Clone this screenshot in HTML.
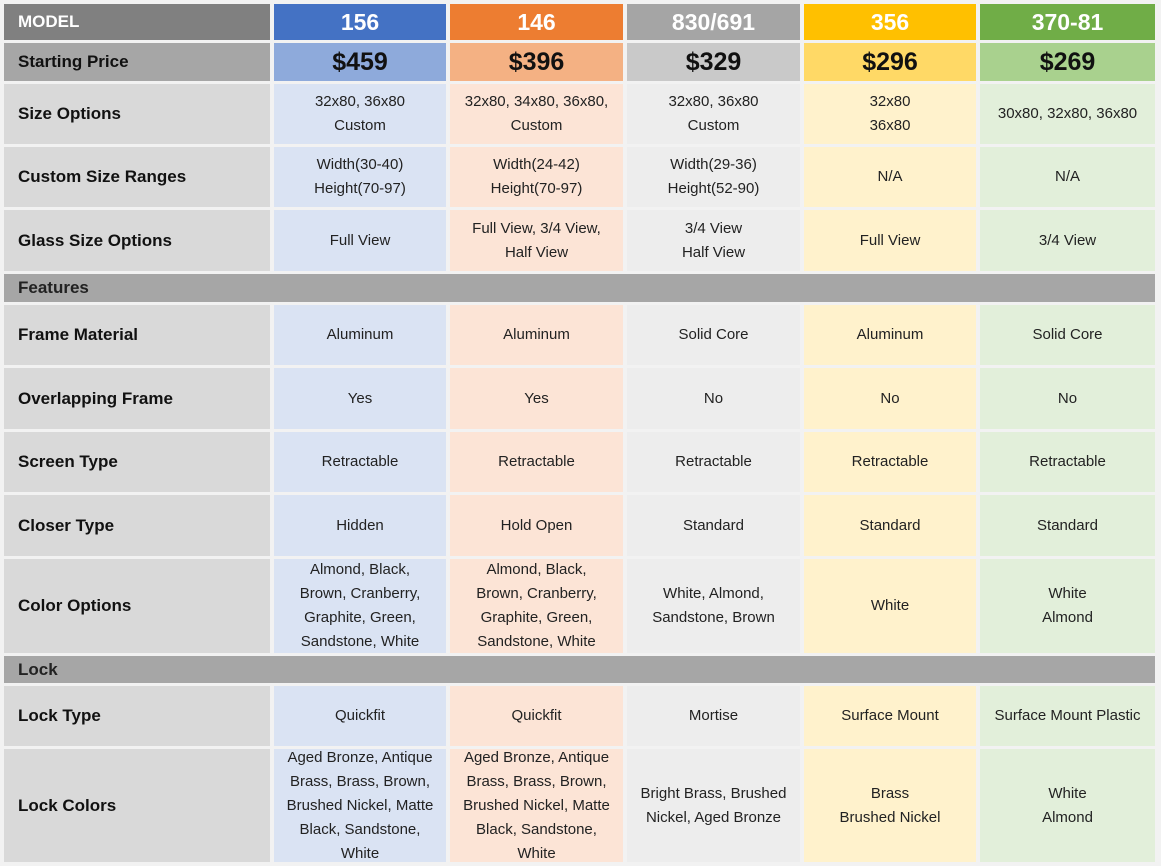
<!DOCTYPE html><html><head><style>
body{margin:0;width:1161px;height:866px;background:#f2f2f2;font-family:"Liberation Sans",sans-serif;overflow:hidden}
.g{position:absolute;left:4px;top:4px;display:grid;grid-template-columns:266px 172px 173px 173px 172px 175px;grid-template-rows:36px 38px 60px 60px 61px 28px 60px 61px 60px 61px 94px 27px 60px 113px;gap:3px 4px}
.g div{display:flex;align-items:center;justify-content:center;text-align:center;font-size:15px;line-height:24px;color:#222}
.g .l{justify-content:flex-start;padding-left:14px;font-weight:bold;font-size:17px;background:#d9d9d9;text-align:left;color:#111}
.h{color:#fff!important;font-weight:bold;font-size:23px!important}
.p{font-weight:bold;font-size:25px!important;color:#111!important}
.s{grid-column:1/7;background:#a6a6a6;justify-content:flex-start!important;padding-left:14px;font-weight:bold;font-size:17px!important}
.b{background:#dae3f3}.o{background:#fce4d6}.r{background:#ededed}.y{background:#fff2cc}.n{background:#e2efda}
</style></head><body><div class="g">
<div class="l h" style="background:#808080;font-size:17px!important">MODEL</div>
<div class="h" style="background:#4472c4">156</div><div class="h" style="background:#ed7d31">146</div><div class="h" style="background:#a5a5a5">830/691</div><div class="h" style="background:#ffc000">356</div><div class="h" style="background:#70ad47">370-81</div>
<div class="l" style="background:#a6a6a6">Starting Price</div>
<div class="p" style="background:#8eaadb">$459</div><div class="p" style="background:#f4b183">$396</div><div class="p" style="background:#c9c9c9">$329</div><div class="p" style="background:#ffd966">$296</div><div class="p" style="background:#a9d18e">$269</div>
<div class="l">Size Options</div><div class="b">32x80, 36x80<br>Custom</div><div class="o">32x80, 34x80, 36x80,<br>Custom</div><div class="r">32x80, 36x80<br>Custom</div><div class="y">32x80<br>36x80</div><div class="n">30x80, 32x80, 36x80</div>
<div class="l">Custom Size Ranges</div><div class="b">Width(30-40)<br>Height(70-97)</div><div class="o">Width(24-42)<br>Height(70-97)</div><div class="r">Width(29-36)<br>Height(52-90)</div><div class="y">N/A</div><div class="n">N/A</div>
<div class="l">Glass Size Options</div><div class="b">Full View</div><div class="o">Full View, 3/4 View,<br>Half View</div><div class="r">3/4 View<br>Half View</div><div class="y">Full View</div><div class="n">3/4 View</div>
<div class="s">Features</div>
<div class="l">Frame Material</div><div class="b">Aluminum</div><div class="o">Aluminum</div><div class="r">Solid Core</div><div class="y">Aluminum</div><div class="n">Solid Core</div>
<div class="l">Overlapping Frame</div><div class="b">Yes</div><div class="o">Yes</div><div class="r">No</div><div class="y">No</div><div class="n">No</div>
<div class="l">Screen Type</div><div class="b">Retractable</div><div class="o">Retractable</div><div class="r">Retractable</div><div class="y">Retractable</div><div class="n">Retractable</div>
<div class="l">Closer Type</div><div class="b">Hidden</div><div class="o">Hold Open</div><div class="r">Standard</div><div class="y">Standard</div><div class="n">Standard</div>
<div class="l">Color Options</div><div class="b">Almond, Black,<br>Brown, Cranberry,<br>Graphite, Green,<br>Sandstone, White</div><div class="o">Almond, Black,<br>Brown, Cranberry,<br>Graphite, Green,<br>Sandstone, White</div><div class="r">White, Almond,<br>Sandstone, Brown</div><div class="y">White</div><div class="n">White<br>Almond</div>
<div class="s">Lock</div>
<div class="l">Lock Type</div><div class="b">Quickfit</div><div class="o">Quickfit</div><div class="r">Mortise</div><div class="y">Surface Mount</div><div class="n">Surface Mount Plastic</div>
<div class="l">Lock Colors</div><div class="b">Aged Bronze, Antique<br>Brass, Brass, Brown,<br>Brushed Nickel, Matte<br>Black, Sandstone,<br>White</div><div class="o">Aged Bronze, Antique<br>Brass, Brass, Brown,<br>Brushed Nickel, Matte<br>Black, Sandstone,<br>White</div><div class="r">Bright Brass, Brushed<br>Nickel, Aged Bronze</div><div class="y">Brass<br>Brushed Nickel</div><div class="n">White<br>Almond</div>
</div></body></html>
